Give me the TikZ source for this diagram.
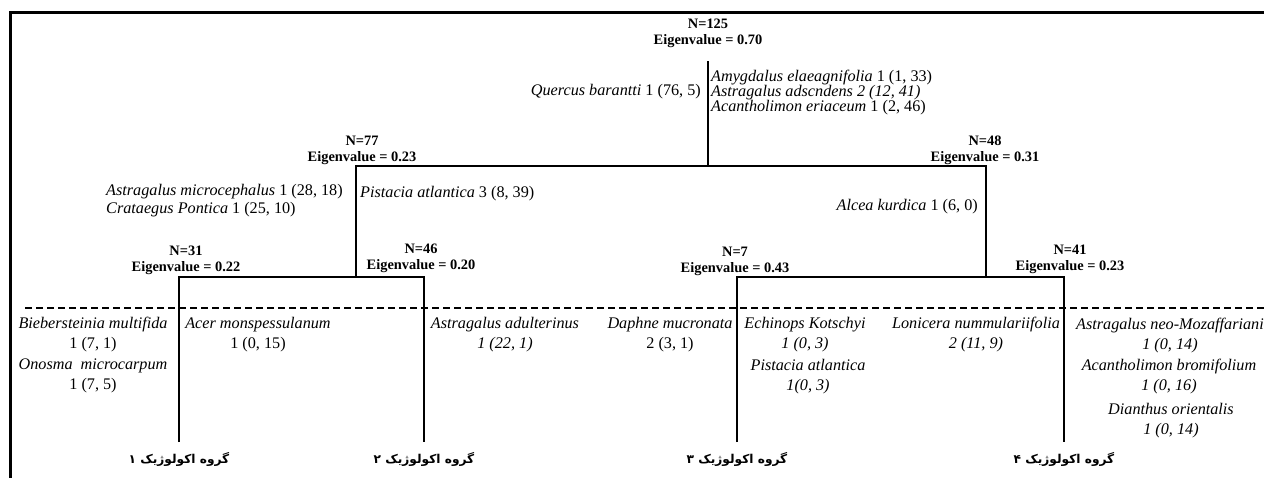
\documentclass[tikz,border=0pt]{standalone}
\usepackage{fontspec}
\setmainfont{Liberation Serif}
\newfontfamily\fa[Script=Arabic]{DejaVu Sans}
\TeXXeTstate=1
\tikzset{
  tree/.style={line width=1.8pt},
  frame/.style={line width=3pt},
  cut/.style={line width=1.5pt, dash pattern=on 7pt off 4pt},
  nlab/.style={font=\fontsize{14.4}{16}\selectfont\bfseries, align=center, inner sep=0pt},
  sp/.style={font=\fontsize{16.2}{18}\selectfont, inner sep=0pt},
  leaf/.style={align=center, inner sep=0pt, font=\fontsize{16.2}{20}\selectfont},
  grp/.style={font=\fa\bfseries\fontsize{12.2}{14}\selectfont, inner sep=0pt},
}
\begin{document}
\begin{tikzpicture}[x=1pt,y=-1pt]
\useasboundingbox (0,0) rectangle (1264,477);
% frame
\coordinate (f1) at (10,500);
\coordinate (f2) at (10,12);
\coordinate (f3) at (1290,12);
\draw[frame] (f1) -- (f2) -- (f3);
% split labels
\node[nlab] (n125) at (708,33) {N=125\\Eigenvalue = 0.70};
\node[nlab] (n77) at (362,150) {N=77\\Eigenvalue = 0.23};
\node[nlab] (n48) at (985,150) {N=48\\Eigenvalue = 0.31};
\node[nlab] (n31) at (186,260) {N=31\\Eigenvalue = 0.22};
\node[nlab] (n46) at (421,258) {N=46\\Eigenvalue = 0.20};
\node[nlab] (n7) at (735,261) {N=7\\Eigenvalue = 0.43};
\node[nlab] (n41) at (1070,259) {N=41\\Eigenvalue = 0.23};
% tree
\coordinate (t0) at (708,61);
\coordinate (s1) at (708,166);
\coordinate (a) at (356,166);
\coordinate (b) at (986,166);
\coordinate (a2) at (356,277);
\coordinate (b2) at (986,277);
\coordinate (c1) at (179,277);
\coordinate (c2) at (424,277);
\coordinate (d1) at (737,277);
\coordinate (d2) at (1064,277);
\coordinate (e1) at (179,442);
\coordinate (e2) at (424,442);
\coordinate (e3) at (737,442);
\coordinate (e4) at (1064,442);
\draw[tree] (t0) -- (s1);
\draw[tree] (a2) -- (a) -- (b) -- (b2);
\draw[tree] (e1) -- (c1) -- (c2) -- (e2);
\draw[tree] (e3) -- (d1) -- (d2) -- (e4);
% dashed cut
\coordinate (dl) at (25,308);
\coordinate (dr) at (1264,308);
\draw[cut] (dl) -- (dr);
% split texts
\node[sp, anchor=east] (q) at (701,92) {\textit{Quercus barantti} 1 (76, 5)};
\node[sp, anchor=west, align=left, font=\fontsize{16.2}{15}\selectfont] (am) at (711,93)
  {\textit{Amygdalus elaeagnifolia} 1 (1, 33)\\\textit{Astragalus adscndens 2 (12, 41)}\\\textit{Acantholimon eriaceum} 1 (2, 46)};
\node[sp, anchor=west, align=left] (amc) at (106,201)
  {\textit{Astragalus microcephalus} 1 (28, 18)\\\textit{Crataegus Pontica} 1 (25, 10)};
\node[sp, anchor=west] (pa) at (360,194) {\textit{Pistacia atlantica} 3 (8, 39)};
\node[sp, anchor=east] (ak) at (978,207) {\textit{Alcea kurdica} 1 (6, 0)};
% leaves
\node[leaf] (l1) at (93,335) {\textit{Biebersteinia multifida}\\1 (7, 1)};
\node[leaf] (l2) at (93,376) {\textit{Onosma\ \ microcarpum}\\1 (7, 5)};
\node[leaf] (l3) at (258,335) {\textit{Acer monspessulanum}\\1 (0, 15)};
\node[leaf] (l4) at (505,335) {\textit{Astragalus adulterinus}\\\textit{1 (22, 1)}};
\node[leaf] (l5) at (670,335) {\textit{Daphne mucronata}\\2 (3, 1)};
\node[leaf] (l6) at (805,335) {\textit{Echinops Kotschyi}\\\textit{1 (0, 3)}};
\node[leaf] (l7) at (808,377) {\textit{Pistacia atlantica}\\\textit{1(0, 3)}};
\node[leaf] (l8) at (976,335) {\textit{Lonicera nummulariifolia}\\\textit{2 (11, 9)}};
\node[leaf] (l9) at (1170,336) {\textit{Astragalus neo-Mozaffariani}\\\textit{1 (0, 14)}};
\node[leaf] (l10) at (1169,377) {\textit{Acantholimon bromifolium}\\\textit{1 (0, 16)}};
\node[leaf] (l11) at (1171,421) {\textit{Dianthus orientalis}\\\textit{1 (0, 14)}};
% group labels
\node[grp] (g1) at (179,459) {\beginR گروه اکولوژیک ۱\endR};
\node[grp] (g2) at (424,459) {\beginR گروه اکولوژیک ۲\endR};
\node[grp] (g3) at (737,459) {\beginR گروه اکولوژیک ۳\endR};
\node[grp] (g4) at (1064,459) {\beginR گروه اکولوژیک ۴\endR};
\end{tikzpicture}
\end{document}
